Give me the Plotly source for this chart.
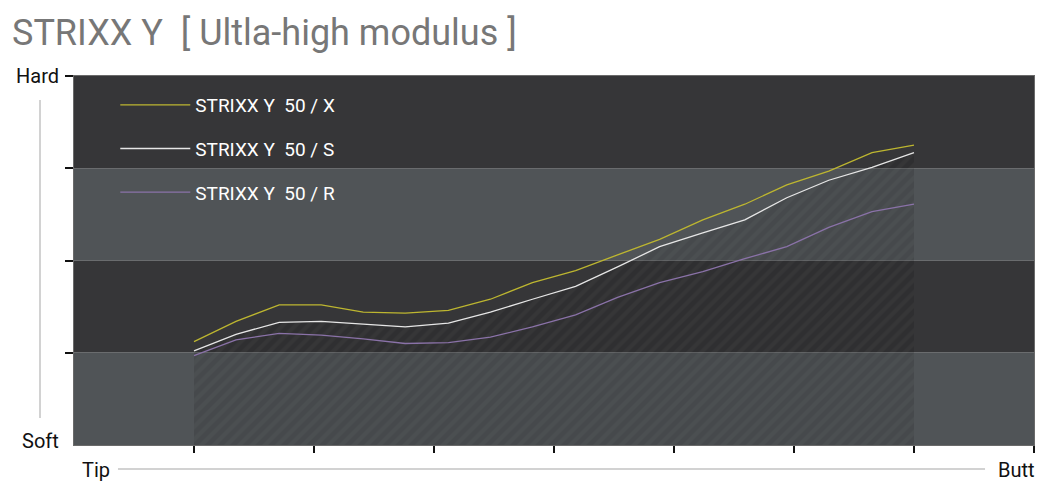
import plotly.graph_objects as go

# shaft positions (tip -> butt) and stiffness readings for each flex
STATIONS = [1.00, 1.35, 1.71, 2.06, 2.41, 2.76, 3.12, 3.47, 3.82,
            4.18, 4.53, 4.88, 5.24, 5.59, 5.94, 6.29, 6.65, 7.00]
FLEX_X = [1.12, 1.34, 1.52, 1.52, 1.44, 1.43, 1.46, 1.58, 1.76,
          1.89, 2.06, 2.23, 2.44, 2.61, 2.82, 2.97, 3.17, 3.25]
FLEX_S = [1.02, 1.20, 1.33, 1.34, 1.31, 1.28, 1.32, 1.44, 1.58,
          1.72, 1.93, 2.15, 2.30, 2.44, 2.68, 2.87, 3.01, 3.17]
FLEX_R = [0.97, 1.14, 1.21, 1.19, 1.15, 1.10, 1.11, 1.17, 1.28,
          1.41, 1.60, 1.76, 1.88, 2.02, 2.15, 2.36, 2.53, 2.61]

SERIES_NAMES = ["STRIXX\u00a0Y\u00a0\u00a050 / X",
                "STRIXX\u00a0Y\u00a0\u00a050 / S",
                "STRIXX\u00a0Y\u00a0\u00a050 / R"]
SERIES_COLORS = ["#bdb630", "#e6e6e6", "#8a72a8"]

X_TICKS = [1, 2, 3, 4, 5, 6, 7, 8]
Y_TICKS = [1, 2, 3, 4]
LIGHT_BANDS = [(0, 1), (2, 3)]

DARK = "#363638"
LIGHT = "#505457"
FONT = "Roboto"

fig = go.Figure()

# hatched area under the S profile
fig.add_trace(go.Scatter(
    x=STATIONS, y=FLEX_S, mode="lines", line=dict(width=0),
    fill="tozeroy", fillcolor="rgba(0,0,0,0)",
    fillpattern=dict(shape="/", size=9, solidity=0.45,
                     fgcolor="rgba(255,255,255,0.06)",
                     bgcolor="rgba(0,0,0,0.13)"),
    showlegend=False, hoverinfo="skip",
))

for i, (name, ys, col) in enumerate(zip(SERIES_NAMES, [FLEX_X, FLEX_S, FLEX_R], SERIES_COLORS)):
    fig.add_trace(go.Scatter(
        x=STATIONS, y=ys, mode="lines", name=name,
        line=dict(color=col, width=1.3), legendgroup=str(i),
    ))

for y0, y1 in LIGHT_BANDS:
    fig.add_shape(type="rect", xref="paper", x0=0, x1=1, yref="y", y0=y0, y1=y1,
                  fillcolor=LIGHT, line_width=0, layer="below")

# side guide lines
fig.add_shape(type="line", xref="paper", yref="paper", x0=-0.0354, x1=-0.0354,
              y0=0.073, y1=0.935, line=dict(color="#d2d2d2", width=2))
fig.add_shape(type="line", xref="paper", yref="paper", x0=0.0458, x1=0.949,
              y0=-0.065, y1=-0.065, line=dict(color="#d2d2d2", width=2))

lab = dict(size=20, color="#111", family=FONT)
fig.add_annotation(text="Hard", xref="paper", yref="paper", x=-0.014, y=1.0,
                   xanchor="right", yanchor="middle", showarrow=False, font=lab)
fig.add_annotation(text="Soft", xref="paper", yref="paper", x=-0.014, y=0.012,
                   xanchor="right", yanchor="middle", showarrow=False, font=lab)
fig.add_annotation(text="Tip", xref="paper", yref="paper", x=0.006, y=-0.068,
                   xanchor="left", yanchor="middle", showarrow=False, font=lab)
fig.add_annotation(text="Butt", xref="paper", yref="paper", x=1.003, y=-0.068,
                   xanchor="right", yanchor="middle", showarrow=False, font=lab)

fig.update_layout(
    width=1050, height=500,
    margin=dict(l=66, r=24, t=68, b=63),
    paper_bgcolor="white", plot_bgcolor=DARK,
    title=dict(text="STRIXX Y\u00a0\u00a0[ Ultla-high modulus ]", x=4 / 1050, xanchor="left",
               y=0.952, yanchor="middle", xref="container",
               font=dict(size=36, color="#777777", family=FONT)),
    legend=dict(x=0.043, y=0.973, xanchor="left", yanchor="top",
                bgcolor="rgba(0,0,0,0)", itemwidth=70, tracegroupgap=16,
                font=dict(size=19, color="white", family=FONT)),
    xaxis=dict(range=[0, 8], tickvals=X_TICKS, showticklabels=False,
               ticks="outside", ticklen=7, tickcolor="#111", tickwidth=1.5,
               showgrid=False, zeroline=False, showline=True, linecolor="#6a6a6a",
               mirror=True),
    yaxis=dict(range=[0, 4], tickvals=Y_TICKS, showticklabels=False,
               ticks="outside", ticklen=8, tickcolor="#111", tickwidth=1.5,
               showgrid=True, gridcolor="#6a6c6e", gridwidth=1,
               zeroline=False, showline=True, linecolor="#6a6a6a", mirror=True),
    showlegend=True,
)

fig.write_html("out.html")
